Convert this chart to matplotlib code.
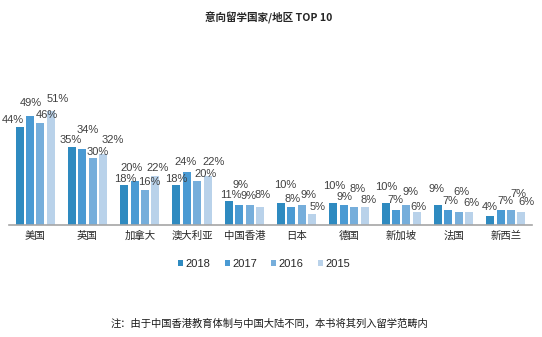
import numpy as np
import matplotlib
matplotlib.use("Agg")
import matplotlib.pyplot as plt
from matplotlib.patches import Patch

plt.rcParams["font.family"] = ["Liberation Sans", "Noto Sans CJK SC", "DejaVu Sans"]

# datos
paises = ["美国", "英国", "加拿大", "澳大利亚", "中国香港",
          "日本", "德国", "新加坡", "法国", "新西兰"]
anios = ["2018", "2017", "2016", "2015"]

v2018 = [44, 35, 18, 18, 11, 10, 10, 10, 9, 4]
v2017 = [49, 34, 20, 24, 9, 8, 9, 7, 7, 7]
v2016 = [46, 30, 16, 20, 9, 9, 8, 9, 6, 7]
v2015 = [51, 32, 22, 22, 8, 5, 8, 6, 6, 6]

series = [v2018, v2017, v2016, v2015]
colores = ["#2E8AC0", "#4A9AD3", "#76AEDB", "#B9D2EA"]

# ajustes manuales de las etiquetas (pixeles, respecto al tope de la barra)
desp_x = [
    [-7, -1, 1, 0, 2, 4, 1, 1, -1, 0],
    [1, 5, -3, -1, 1, 1, 1, -1, 2, 5],
    [7, 5, 4, 8, -1, 7, 3, 4, 3, 7],
    [7, 10, 2, 6, 3, 5, 4, 2, 2, 5],
]
desp_y = [
    [7, 7, 6, 6, 6, 18, 17, 16, 16, 9],
    [13, 19, 13, 10, 20, 8, 8, 10, 9, 9],
    [8, 6, 8, 7, 9, 10, 18, 13, 20, 16],
    [12, 14, 8, 14, 12, 7, 7, 5, 9, 10],
]

fig = plt.figure(figsize=(5.42, 3.37), dpi=100)
ax = fig.add_axes([9 / 542, (337 - 225.3) / 337, 523 / 542, 134 / 337])

x = np.arange(len(paises))
paso = 0.199
ancho = 0.153

for k, vals in enumerate(series):
    pos = x + (k - 1.5) * paso
    ax.bar(pos, vals, width=ancho, color=colores[k], label=anios[k], zorder=2)
    for i, v in enumerate(vals):
        ax.annotate(f"{v}%", xy=(pos[i], v),
                    xytext=(desp_x[k][i], desp_y[k][i]),
                    textcoords="offset pixels",
                    ha="center", va="center",
                    fontsize=8, color="#404040",
                    annotation_clip=False)

ax.set_xlim(-0.5, len(paises) - 0.5)
ax.set_ylim(0, 60)
ax.set_yticks([])
ax.set_xticks(x)
ax.set_xticklabels(paises, family=["Noto Sans CJK SC"], fontsize=7.5, color="#262626")
ax.tick_params(axis="x", length=0, pad=4)

for lado in ["top", "right", "left"]:
    ax.spines[lado].set_visible(False)
ax.spines["bottom"].set_color("#A6A6A6")
ax.spines["bottom"].set_linewidth(1.2)
ax.set_facecolor("none")

manijas = [Patch(facecolor=c, edgecolor="none") for c in colores]
fig.legend(manijas, anios, loc="center", bbox_to_anchor=(264 / 542, 1 - 264 / 337),
           ncol=4, frameon=False, fontsize=8, handlelength=0.45, handleheight=0.45,
           handletextpad=0.2, columnspacing=1.3, labelcolor="#262626")

fig.text(269 / 542, 1 - 18.3 / 337, "意向留学国家/地区 TOP 10",
         ha="center", va="center", fontsize=7.6, fontweight="bold",
         family=["Noto Sans CJK SC"], color="#262626")

fig.text(269 / 542, 1 - 324 / 337,
         "注：由于中国香港教育体制与中国大陆不同，本书将其列入留学范畴内",
         ha="center", va="center", fontsize=7.4,
         family=["Noto Sans CJK SC"], color="#1A1A1A")

fig.savefig("out.png", dpi=100)
plt.close(fig)
